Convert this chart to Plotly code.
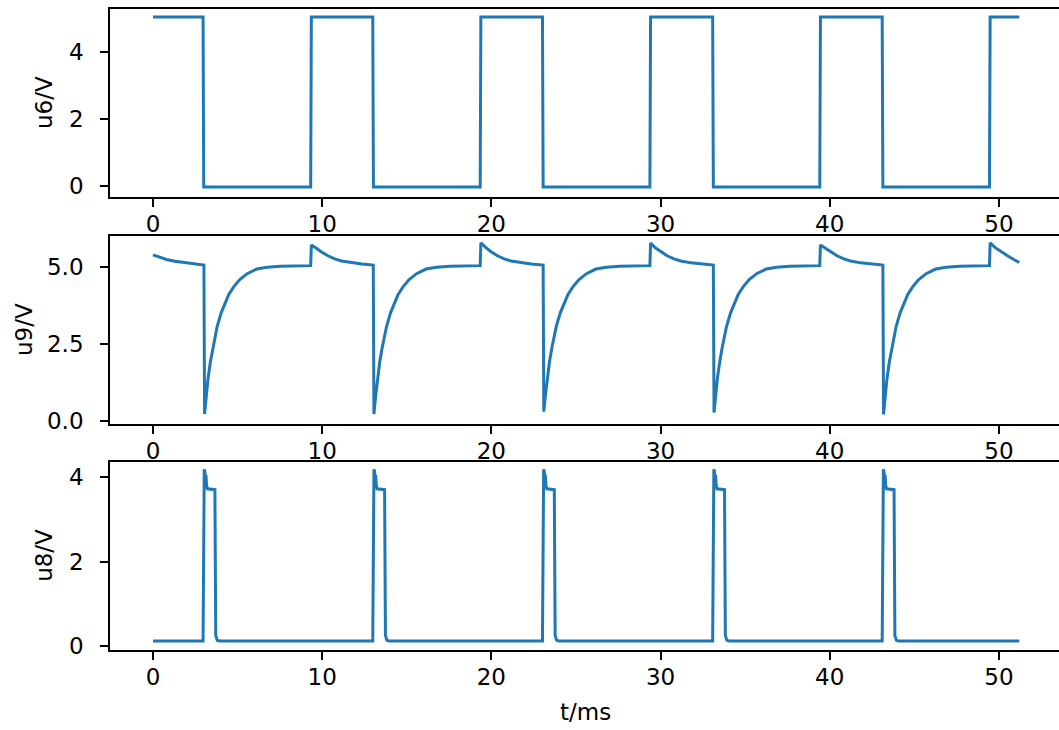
import plotly.graph_objects as go

# ---------------- data ----------------
# u6: square wave
t6 = [0.0, 2.96, 3.00, 9.32, 9.36, 12.99, 13.03, 19.34, 19.38, 23.02, 23.06,
      29.37, 29.41, 33.08, 33.12, 39.41, 39.45, 43.10, 43.14, 49.44, 49.48, 51.20]
u6 = [5.04, 5.04, -0.03, -0.03, 5.04, 5.04, -0.03, -0.03, 5.04, 5.04, -0.03,
      -0.03, 5.04, 5.04, -0.03, -0.03, 5.04, 5.04, -0.03, -0.03, 5.04, 5.04]

# u9: differentiated / recovering waveform
t9 = [0.0, 0.4, 0.8, 1.3, 1.8, 2.4, 3.01,
      3.05, 3.15, 3.25, 3.39, 3.53, 3.79, 4.03, 4.48, 4.78, 5.13, 5.57, 6.13, 6.75, 7.53, 9.32,
      9.36, 9.64, 9.94, 10.34, 10.74, 11.14, 11.74, 12.34, 13.02,
      13.06, 13.16, 13.26, 13.40, 13.54, 13.80, 14.04, 14.49, 14.79, 15.14, 15.58, 16.14, 16.76, 17.54, 19.34,
      19.38, 19.66, 19.96, 20.36, 20.76, 21.16, 21.76, 22.36, 23.06,
      23.10, 23.20, 23.30, 23.44, 23.58, 23.84, 24.08, 24.53, 24.83, 25.18, 25.62, 26.18, 26.80, 27.58, 29.37,
      29.41, 29.69, 29.99, 30.39, 30.79, 31.19, 31.79, 32.39, 33.12,
      33.16, 33.26, 33.36, 33.50, 33.64, 33.90, 34.14, 34.59, 34.89, 35.24, 35.68, 36.24, 36.86, 37.64, 39.41,
      39.45, 39.73, 40.03, 40.43, 40.83, 41.23, 41.83, 42.43, 43.14,
      43.18, 43.28, 43.38, 43.52, 43.66, 43.92, 44.16, 44.61, 44.91, 45.26, 45.70, 46.26, 46.88, 47.66, 49.44,
      49.48, 49.76, 50.06, 50.65, 51.20]
u9 = [5.38, 5.30, 5.23, 5.17, 5.13, 5.08, 5.05,
      0.22, 0.80, 1.35, 1.90, 2.35, 3.05, 3.50, 4.10, 4.35, 4.58, 4.77, 4.92, 4.98, 5.01, 5.03,
      5.70, 5.60, 5.48, 5.35, 5.25, 5.18, 5.12, 5.08, 5.05,
      0.22, 0.80, 1.35, 1.90, 2.35, 3.05, 3.50, 4.10, 4.35, 4.58, 4.77, 4.92, 4.98, 5.01, 5.03,
      5.77, 5.62, 5.49, 5.35, 5.25, 5.18, 5.12, 5.08, 5.05,
      0.30, 0.85, 1.40, 1.93, 2.38, 3.07, 3.51, 4.10, 4.35, 4.58, 4.77, 4.92, 4.98, 5.01, 5.03,
      5.76, 5.61, 5.49, 5.35, 5.25, 5.18, 5.12, 5.08, 5.05,
      0.27, 0.83, 1.38, 1.92, 2.37, 3.06, 3.50, 4.10, 4.35, 4.58, 4.77, 4.92, 4.98, 5.01, 5.03,
      5.70, 5.60, 5.48, 5.35, 5.25, 5.18, 5.12, 5.08, 5.05,
      0.21, 0.80, 1.35, 1.90, 2.35, 3.05, 3.50, 4.10, 4.35, 4.58, 4.77, 4.92, 4.98, 5.01, 5.03,
      5.77, 5.62, 5.51, 5.30, 5.13]

# u8: short pulses
t8 = [0.0,
      2.96, 3.03, 3.07, 3.10, 3.13, 3.17, 3.22, 3.66, 3.71, 3.80, 3.93,
      12.99, 13.06, 13.10, 13.13, 13.16, 13.20, 13.25, 13.69, 13.74, 13.83, 13.96,
      23.02, 23.09, 23.13, 23.16, 23.19, 23.23, 23.28, 23.72, 23.77, 23.86, 23.99,
      33.08, 33.15, 33.19, 33.22, 33.25, 33.29, 33.34, 33.78, 33.83, 33.92, 34.05,
      43.10, 43.17, 43.21, 43.24, 43.27, 43.31, 43.36, 43.80, 43.85, 43.94, 44.07,
      51.20]
u8 = [0.12,
      0.12, 4.18, 4.12, 3.95, 4.05, 3.80, 3.72, 3.70, 0.25, 0.14, 0.12,
      0.12, 4.18, 4.12, 3.95, 4.05, 3.80, 3.72, 3.70, 0.25, 0.14, 0.12,
      0.12, 4.18, 4.12, 3.95, 4.05, 3.80, 3.72, 3.70, 0.25, 0.14, 0.12,
      0.12, 4.18, 4.12, 3.95, 4.05, 3.80, 3.72, 3.70, 0.25, 0.14, 0.12,
      0.12, 4.18, 4.12, 3.95, 4.05, 3.80, 3.72, 3.70, 0.25, 0.14, 0.12,
      0.12]

x_ticks = [0, 10, 20, 30, 40, 50]
y6_ticks = [0, 2, 4]
y9_ticks = [0, 2.5, 5.0]
y8_ticks = [0, 2, 4]
y_titles = ["u6/V", "u9/V", "u8/V"]
x_title = "t/ms"

# ---------------- figure ----------------
BLUE = "#1f77b4"
FONT = dict(family="DejaVu Sans", size=23, color="black")
LW = 3
W, H, L = 1059, 730, 110

fig = go.Figure()
fig.add_trace(go.Scatter(x=t6, y=u6, mode="lines", line=dict(color=BLUE, width=LW),
                         xaxis="x", yaxis="y", showlegend=False))
fig.add_trace(go.Scatter(x=t9, y=u9, mode="lines", line=dict(color=BLUE, width=LW),
                         xaxis="x2", yaxis="y2", showlegend=False))
fig.add_trace(go.Scatter(x=t8, y=u8, mode="lines", line=dict(color=BLUE, width=LW),
                         xaxis="x3", yaxis="y3", showlegend=False))

xr = [-2.54, 53.55]
axis_common = dict(showgrid=False, zeroline=False, showline=True, linecolor="black",
                   linewidth=1.7, ticks="outside", ticklen=8, tickwidth=1.7,
                   tickcolor="black", tickfont=FONT, automargin=False)

doms = [[0.7305, 0.9873], [0.4192, 0.6767], [0.1096, 0.3675]]
XS = -2   # x tick label offset
YS = 12   # y tick label offset

fig.update_layout(
    width=W, height=H,
    margin=dict(l=L, r=0, t=0, b=0, pad=0),
    paper_bgcolor="white", plot_bgcolor="white",
    font=FONT,
    xaxis=dict(**axis_common, domain=[0, 1], range=xr, tickvals=x_ticks, mirror=True,
               ticklabelstandoff=XS, anchor="y"),
    xaxis2=dict(**axis_common, domain=[0, 1], range=xr, tickvals=x_ticks, mirror=True,
                ticklabelstandoff=XS, anchor="y2"),
    xaxis3=dict(**axis_common, domain=[0, 1], range=xr, tickvals=x_ticks, mirror=True,
                ticklabelstandoff=XS, anchor="y3"),
    yaxis=dict(**axis_common, domain=doms[0], range=[-0.32, 5.27], tickvals=y6_ticks,
               ticklabelstandoff=YS, anchor="x"),
    yaxis2=dict(**axis_common, domain=doms[1], range=[-0.10, 5.99], tickvals=y9_ticks,
                ticklabelstandoff=YS, tickformat=".1f", anchor="x2"),
    yaxis3=dict(**axis_common, domain=doms[2], range=[-0.09, 4.36], tickvals=y8_ticks,
                ticklabelstandoff=YS, anchor="x3"),
)

# axis titles placed like the matplotlib labels
title_x = {"u6/V": 44, "u9/V": 24, "u8/V": 44}
for name, d in zip(y_titles, doms):
    fig.add_annotation(text=name, textangle=-90, showarrow=False, font=FONT,
                       xref="paper", yref="paper",
                       x=(title_x[name] - L) / (W - L), y=(d[0] + d[1]) / 2,
                       xanchor="center", yanchor="middle")
fig.add_annotation(text=x_title, showarrow=False, font=FONT, xref="paper", yref="paper",
                   x=(585 - L) / (W - L), y=1 - 712 / H, xanchor="center", yanchor="middle")

fig.write_html("out.html", config={"displayModeBar": False},
               post_script="document.body.style.margin='0';document.body.style.overflow='hidden';")
